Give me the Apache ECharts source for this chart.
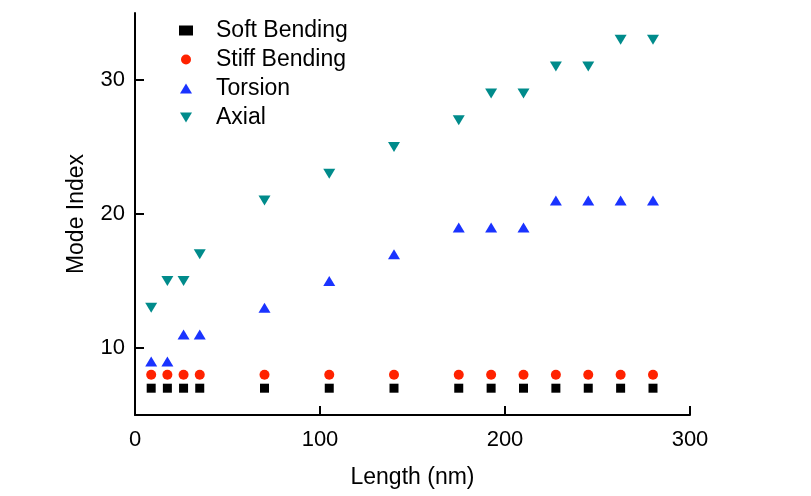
<!DOCTYPE html>
<html>
<head>
<meta charset="utf-8">
<script src="https://cdn.jsdelivr.net/npm/echarts@6/dist/echarts.min.js"></script>
<style>html,body{margin:0;padding:0;background:#fff;}#c{width:811px;height:496px;}</style>
</head>
<body>
<div id="c"></div>
<script>
var lengths = [8.75, 17.5, 26.25, 35, 70, 105, 140, 175, 192.5, 210, 227.5, 245, 262.5, 280];
var softBending = [7, 7, 7, 7, 7, 7, 7, 7, 7, 7, 7, 7, 7, 7];
var stiffBending = [8, 8, 8, 8, 8, 8, 8, 8, 8, 8, 8, 8, 8, 8];
var torsion = [9, 9, 11, 11, 13, 15, 17, 19, 19, 19, 21, 21, 21, 21];
var axial = [13, 15, 15, 17, 21, 23, 25, 27, 29, 29, 31, 31, 33, 33];
var yTicks = [10, 20, 30];
var xTicks = [0, 100, 200, 300];

function pairs(ys) { return lengths.map(function (x, i) { return [x, ys[i]]; }); }

var downTri = 'path://M0,0 L12,0 L6,10 Z';
var upTri = 'path://M6,0 L12,10 L0,10 Z';
var font = 'Liberation Sans, Arial, sans-serif';
var chart = echarts.init(document.getElementById('c'), null, {renderer: 'canvas'});
chart.setOption({
  backgroundColor: '#ffffff',
  animation: false,
  grid: {left: 135, right: 121, top: 13, bottom: 81, containLabel: false},
  legend: {
    orient: 'vertical', left: 174, top: 14, itemWidth: 14, itemHeight: 10, itemGap: 6,
    textStyle: {fontFamily: font, fontSize: 23, color: '#000', padding: [0, 0, 0, 18]},
    data: ['Soft Bending', 'Stiff Bending', 'Torsion', 'Axial']
  },
  xAxis: {
    type: 'value', min: 0, max: 300, interval: 100,
    name: 'Length (nm)', nameLocation: 'middle', nameGap: 51,
    nameTextStyle: {fontFamily: font, fontSize: 23, color: '#000'},
    axisLine: {show: true, onZero: false, lineStyle: {color: '#000', width: 2}},
    axisTick: {show: true, inside: true, length: 9, lineStyle: {color: '#000', width: 2}, customValues: xTicks},
    axisLabel: {fontFamily: font, fontSize: 22, color: '#000', margin: 14, customValues: xTicks},
    splitLine: {show: false}
  },
  yAxis: {
    type: 'value', min: 5, max: 35, interval: 5,
    name: 'Mode Index', nameLocation: 'middle', nameGap: 47,
    nameTextStyle: {fontFamily: font, fontSize: 23, color: '#000'},
    axisLine: {show: true, onZero: false, lineStyle: {color: '#000', width: 2}},
    axisTick: {show: true, inside: true, length: 9, lineStyle: {color: '#000', width: 2}, customValues: yTicks},
    axisLabel: {fontFamily: font, fontSize: 22, color: '#000', margin: 10, customValues: yTicks},
    splitLine: {show: false}
  },
  series: [
    {name: 'Soft Bending', type: 'scatter', symbol: 'rect', symbolSize: 9, itemStyle: {color: '#000000', opacity: 1}, data: pairs(softBending)},
    {name: 'Stiff Bending', type: 'scatter', symbol: 'circle', symbolSize: 10, itemStyle: {color: '#ff2200', opacity: 1}, data: pairs(stiffBending)},
    {name: 'Torsion', type: 'scatter', symbol: upTri, symbolSize: [12, 10], itemStyle: {color: '#1a33ff', opacity: 1}, data: pairs(torsion)},
    {name: 'Axial', type: 'scatter', symbol: downTri, symbolSize: [12, 10], itemStyle: {color: '#008b8b', opacity: 1}, data: pairs(axial)}
  ]
});
</script>
</body>
</html>
